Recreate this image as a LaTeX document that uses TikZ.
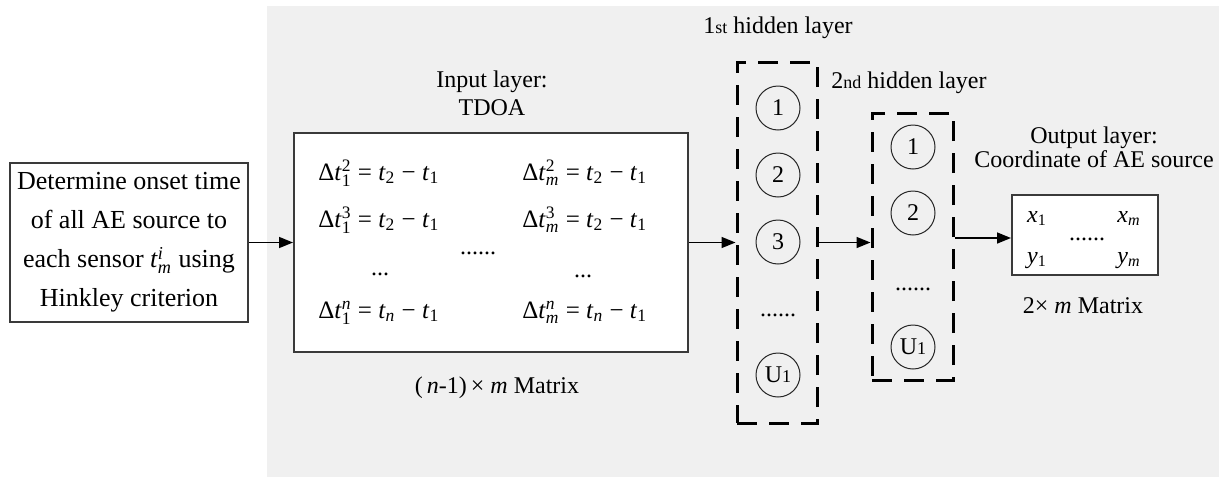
\documentclass[tikz,border=0pt]{standalone}
\usepackage{fontspec}
\setmainfont{Liberation Serif}
\usetikzlibrary{arrows.meta}
\definecolor{bgray}{HTML}{F0F0F0}
\definecolor{boxline}{HTML}{3A3A3A}
\newcommand{\mt}{\textit{t}}
\newcommand{\dlt}[2]{Δ\mt$^{#1}_{#2}$}
\newcommand{\ts}[1]{\mt$_{#1}$}
\newcommand{\op}[1]{\hspace{0.25em}#1\hspace{0.25em}}
\begin{document}
\begin{tikzpicture}[x=0.5pt,y=-0.5pt,
  font=\fontsize{12}{14}\selectfont,
  box/.style={draw=boxline, line width=1pt, fill=white, inner sep=0pt},
  layerbox/.style={draw=black, line width=1.5pt, dash pattern=on 10pt off 6pt, inner sep=0pt},
  neuron/.style={circle, draw=black!85, line width=0.5pt, minimum size=22pt, inner sep=0pt},
  arr/.style={line width=0.75pt, -{Triangle[length=7pt,width=5.5pt]}},
  lbl/.style={anchor=base, inner sep=0pt},
  eq/.style={anchor=base west, inner sep=0pt, font=\fontsize{12.5}{14}\selectfont}]
\useasboundingbox (0,0) rectangle (1221,477);
\fill[bgray] (267,6) rectangle (1219,477);

% left box
\node[box, minimum width=119pt, minimum height=79.5pt, align=center,
      font=\fontsize{13}{19.5}\selectfont] (onset) at (129,242.5)
  {Determine onset time\\of all AE source to\\each sensor \mt$^{\mathit{i}}_{\mathit{m}}$ using\\Hinkley criterion};

% input layer
\node[box, minimum width=197pt, minimum height=109.5pt] (input) at (491,242.5) {};
\node[lbl] (inl1) at (492,87) {Input layer:};
\node[lbl] (inl2) at (492,115) {TDOA};
\node[eq] (e11) at (318,180) {\dlt{\mathrm{2}}{\mathrm{1}}\op{=}\ts{\mathrm{2}}\op{−}\ts{\mathrm{1}}};
\node[eq] (e12) at (318,227) {\dlt{\mathrm{3}}{\mathrm{1}}\op{=}\ts{\mathrm{2}}\op{−}\ts{\mathrm{1}}};
\node[lbl] (e13) at (380,275) {...};
\node[eq] (e14) at (318,318) {\dlt{\mathit{n}}{\mathrm{1}}\op{=}\ts{\mathit{n}}\op{−}\ts{\mathrm{1}}};
\node[eq] (e21) at (522,180) {\dlt{\mathrm{2}}{\mathit{m}}\op{=}\ts{\mathrm{2}}\op{−}\ts{\mathrm{1}}};
\node[eq] (e22) at (522,227) {\dlt{\mathrm{3}}{\mathit{m}}\op{=}\ts{\mathrm{2}}\op{−}\ts{\mathrm{1}}};
\node[lbl] (e23) at (583,277) {...};
\node[eq] (e24) at (522,318) {\dlt{\mathit{n}}{\mathit{m}}\op{=}\ts{\mathit{n}}\op{−}\ts{\mathrm{1}}};
\node[lbl] (emid) at (478,254) {......};
\node[lbl] (inmat) at (497,393) {(\,\textit{n}-1)\,× \textit{m} Matrix};

% hidden layer 1
\node[layerbox, minimum width=40pt, minimum height=180.5pt] (h1) at (777,242.5) {};
\node[lbl] (h1l) at (778,33) {1{\fontsize{9}{10}\selectfont st} hidden layer};
\node[neuron] (a1) at (778,108) {1};
\node[neuron] (a2) at (778,175) {2};
\node[neuron] (a3) at (778,242) {3};
\node[lbl] (adots) at (778,316) {......};
\node[neuron] (au) at (778,375) {U{\fontsize{9}{10}\selectfont 1}};

% hidden layer 2
\node[layerbox, minimum width=40.5pt, minimum height=133.5pt] (h2) at (912.5,246.5) {};
\node[lbl] (h2l) at (909,88) {2{\fontsize{9}{10}\selectfont nd} hidden layer};
\node[neuron] (b1) at (913,147) {1};
\node[neuron] (b2) at (913,213) {2};
\node[lbl] (bdots) at (913,290) {......};
\node[neuron] (bu) at (913,347) {U{\fontsize{9}{10}\selectfont 1}};

% output layer
\node[box, minimum width=73pt, minimum height=40pt] (out) at (1085,235) {};
\node[lbl] (outl1) at (1094,143) {Output layer:};
\node[lbl] (outl2) at (1094,167) {Coordinate of AE source};
\node[lbl] (x1) at (1037,222) {\textit{x}$_{\mathrm{1}}$};
\node[lbl] (xm) at (1129,222) {\textit{x}$_{\mathit{m}}$};
\node[lbl] (y1) at (1037,263) {\textit{y}$_{\mathrm{1}}$};
\node[lbl] (ym) at (1129,263) {\textit{y}$_{\mathit{m}}$};
\node[lbl] (odots) at (1087,240) {......};
\node[lbl] (outmat) at (1083,313) {2× \textit{m} Matrix};

% connectors
\draw[arr] (onset.east) -- (input.west);
\draw[arr] (input.east) -- (input.east -| h1.west);
\draw[arr] (h1.east) -- (h1.east -| h2.west);
\draw[arr] (out.west -| h2.east) ++(0,3) coordinate (h2o) -- (h2o -| out.west);
\end{tikzpicture}
\end{document}
